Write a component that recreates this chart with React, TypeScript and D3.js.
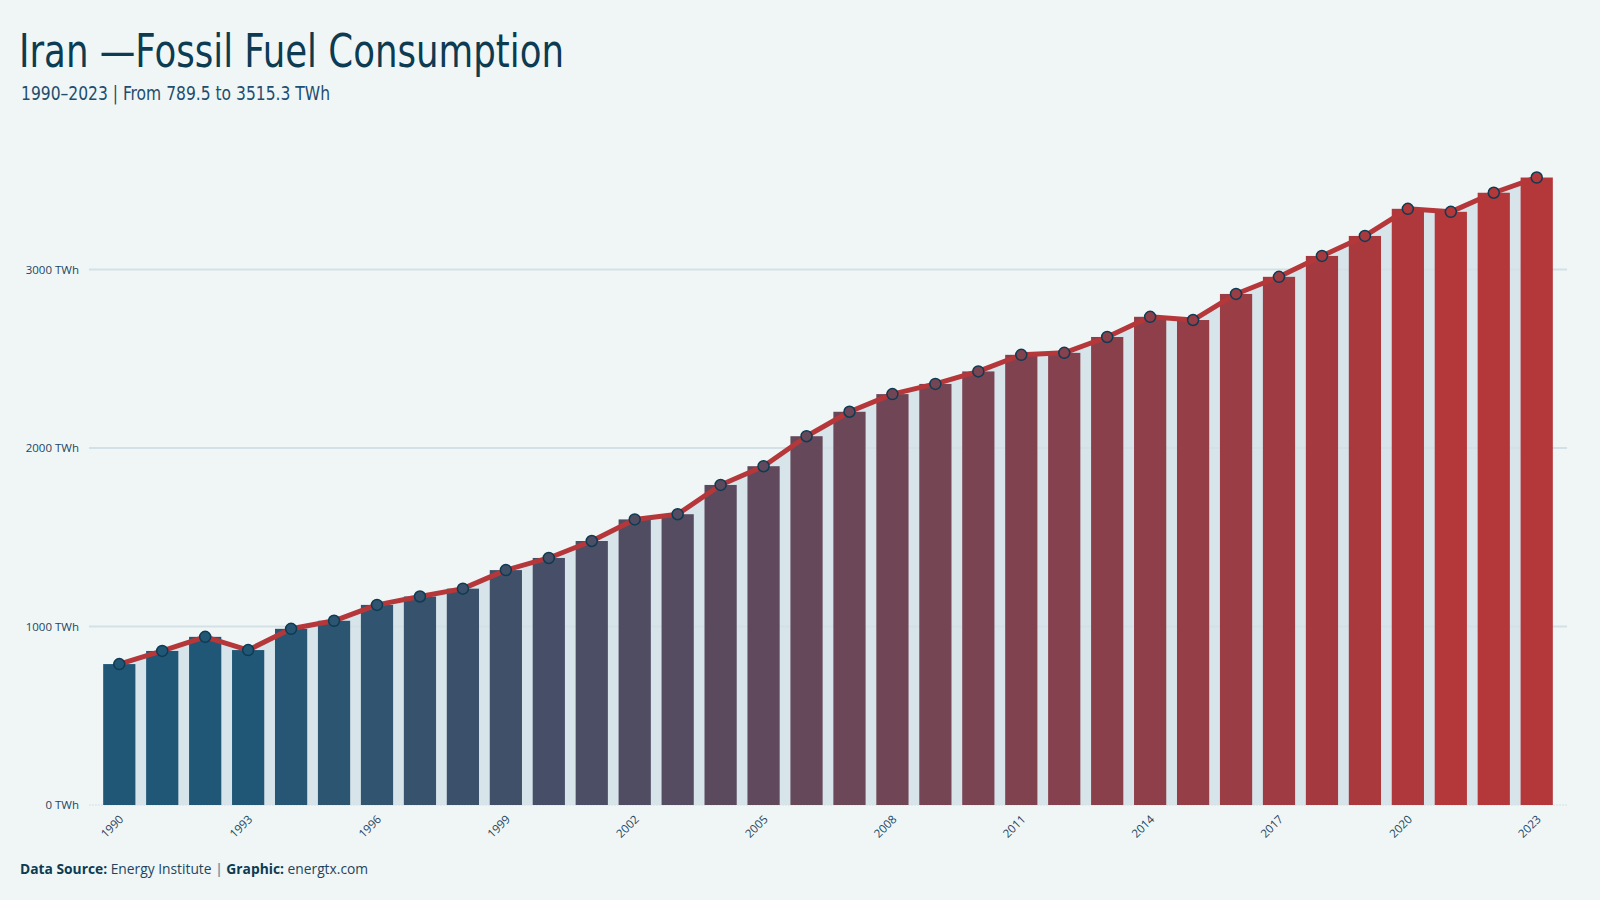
import React from "react";
import * as d3 from "d3";

// Iran fossil fuel consumption, TWh
const years: number[] = [
  1990, 1991, 1992, 1993, 1994, 1995, 1996, 1997, 1998, 1999, 2000, 2001,
  2002, 2003, 2004, 2005, 2006, 2007, 2008, 2009, 2010, 2011, 2012, 2013,
  2014, 2015, 2016, 2017, 2018, 2019, 2020, 2021, 2022, 2023,
];
const consumption: number[] = [
  789.5, 863, 942, 868, 987, 1032, 1121, 1168, 1212, 1316, 1384, 1479,
  1600, 1629, 1793, 1898, 2066, 2203, 2302, 2359, 2429, 2522, 2533, 2622,
  2735, 2717, 2863, 2959, 3076, 3188, 3340, 3323, 3430, 3515.3,
];
const yTicks: number[] = [0, 1000, 2000, 3000];
const labelYears: number[] = [1990, 1993, 1996, 1999, 2002, 2005, 2008, 2011, 2014, 2017, 2020, 2023];

const W = 1600;
const H = 900;
const BG = "#f0f6f6";
const NAVY = "#0d3b52";
const TEXT = "#1d4560";
const LINE_RED = "#b5373a";
const CONDENSED = "'DejaVu Sans Condensed', 'DejaVu Sans', sans-serif";

export default function App() {
  const x = d3
    .scaleBand<number>()
    .domain(years)
    .range([89, 1567])
    .paddingInner(0.25)
    .paddingOuter(0.33);
  const y = d3.scaleLinear().domain([0, 3000]).range([805, 269.5]);

  const color = d3
    .scaleLinear<string>()
    .domain([1993, 2021])
    .range(["#215776", "#b4373a"])
    .interpolate(d3.interpolateRgb)
    .clamp(true);

  const cx = (yr: number) => (x(yr) as number) + x.bandwidth() / 2;
  const pts = years.map((yr, i) => ({ yr, v: consumption[i] }));

  const line = d3
    .line<{ yr: number; v: number }>()
    .x((d) => cx(d.yr))
    .y((d) => y(d.v));
  const area = d3
    .area<{ yr: number; v: number }>()
    .x((d) => cx(d.yr))
    .y0(y(0))
    .y1((d) => y(d.v));

  return (
    <svg width={W} height={H} style={{ position: "absolute", left: 0, top: 0, display: "block" }}>
      <rect width={W} height={H} fill={BG} />

      {/* title block */}
      <text
        x={19}
        y={67}
        fontFamily={CONDENSED}
        fontSize={46}
        fill={NAVY}
        textLength={545}
        lengthAdjust="spacingAndGlyphs"
      >
        Iran —Fossil Fuel Consumption
      </text>
      <text
        x={21}
        y={100}
        fontFamily={CONDENSED}
        fontSize={20}
        fill="#1f4e6e"
        textLength={309}
        lengthAdjust="spacingAndGlyphs"
      >
        1990–2023 | From 789.5 to 3515.3 TWh
      </text>

      {/* area under the line */}
      <path d={area(pts) ?? ""} fill="#d2e1e7" fillOpacity={0.85} />

      {/* gridlines */}
      {yTicks.map((t) => (
        <g key={t}>
          <line
            x1={89}
            x2={1567}
            y1={y(t)}
            y2={y(t)}
            stroke="#d3e0e5"
            strokeWidth={t === 0 ? 1 : 2}
            strokeDasharray={t === 0 ? "2 1" : undefined}
          />
          <text
            x={79}
            y={y(t) + 4}
            textAnchor="end"
            fontFamily="'Open Sans', sans-serif"
            fontSize={11.5}
            fill={TEXT}
          >
            {t} TWh
          </text>
        </g>
      ))}

      {/* bars */}
      {pts.map((d) => (
        <rect
          key={d.yr}
          x={x(d.yr)}
          y={y(d.v)}
          width={x.bandwidth()}
          height={y(0) - y(d.v)}
          fill={color(d.yr)}
        />
      ))}

      {/* line and markers */}
      <path d={line(pts) ?? ""} fill="none" stroke={LINE_RED} strokeWidth={5} strokeLinejoin="round" />
      {pts.map((d) => (
        <circle
          key={d.yr}
          cx={cx(d.yr)}
          cy={y(d.v)}
          r={5.5}
          fill={color(d.yr)}
          stroke={NAVY}
          strokeWidth={1.5}
        />
      ))}

      {/* x-axis labels */}
      {labelYears.map((yr) => (
        <text
          key={yr}
          transform={`translate(${cx(yr) + 5},${820}) rotate(-45)`}
          textAnchor="end"
          fontFamily="'Open Sans', sans-serif"
          fontSize={11.5}
          fill={TEXT}
        >
          {yr}
        </text>
      ))}

      {/* footer */}
      <text x={20} y={874} fontFamily="'Open Sans', sans-serif" fontSize={13.8} fill={TEXT}>
        <tspan fontWeight="bold" fill={NAVY}>Data Source:</tspan>
        <tspan> Energy Institute </tspan>
        <tspan fill="#7a9aaa" fontWeight="bold">|</tspan>
        <tspan fontWeight="bold" fill={NAVY}> Graphic:</tspan>
        <tspan> energtx.com</tspan>
      </text>
    </svg>
  );
}
